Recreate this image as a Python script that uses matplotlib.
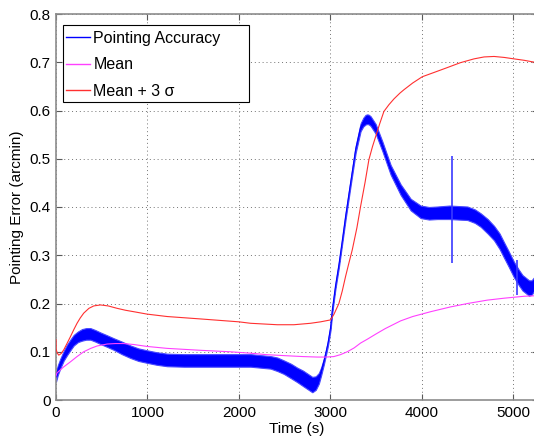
import numpy as np
import matplotlib.pyplot as plt
from matplotlib.patches import Rectangle

plt.rcParams['font.family'] = ['Liberation Sans', 'DejaVu Sans']

# Pointing accuracy: centre of the noisy trace and half-width of the noise band
acc_t = [0, 20, 48, 85, 121, 160, 194, 240, 285, 330, 376, 430, 486, 560, 631, 720, 814, 900,
         996, 1100, 1215, 1400, 1700, 1950, 2127, 2346, 2420, 2492, 2570, 2638, 2700, 2747,
         2802, 2840, 2874, 2900, 2929, 2950, 2973, 3002, 3020, 3055, 3093, 3130, 3166, 3221,
         3276, 3330, 3360, 3385, 3405, 3421, 3440, 3495, 3568, 3659, 3768, 3878, 3987, 4078,
         4169, 4300, 4498, 4580, 4643, 4720, 4789, 4850, 4898, 4950, 5008, 5060, 5100, 5172,
         5200, 5234]
acc_mid = [0.048, 0.062, 0.076, 0.092, 0.104, 0.115, 0.124, 0.131, 0.135, 0.137, 0.137, 0.133,
           0.128, 0.122, 0.116, 0.108, 0.100, 0.094, 0.090, 0.086, 0.083, 0.082, 0.082, 0.082,
           0.082, 0.078, 0.074, 0.068, 0.060, 0.052, 0.045, 0.039, 0.032, 0.035, 0.045, 0.060,
           0.080, 0.097, 0.117, 0.150, 0.185, 0.235, 0.280, 0.330, 0.380, 0.450, 0.519, 0.565,
           0.576, 0.581, 0.582, 0.581, 0.578, 0.562, 0.526, 0.477, 0.436, 0.405, 0.390, 0.387,
           0.388, 0.389, 0.387, 0.381, 0.373, 0.360, 0.346, 0.329, 0.311, 0.292, 0.270, 0.254,
           0.243, 0.232, 0.233, 0.242]
acc_hw = [0.010, 0.010, 0.010, 0.010, 0.011, 0.011, 0.011, 0.011, 0.012, 0.012, 0.012, 0.012,
          0.012, 0.012, 0.012, 0.013, 0.013, 0.013, 0.013, 0.013, 0.013, 0.013, 0.013, 0.013,
          0.013, 0.013, 0.014, 0.014, 0.015, 0.015, 0.016, 0.016, 0.016, 0.014, 0.011, 0.008,
          0.006, 0.005, 0.005, 0.005, 0.005, 0.005, 0.005, 0.005, 0.006, 0.006, 0.007, 0.008,
          0.009, 0.010, 0.010, 0.010, 0.010, 0.010, 0.010, 0.010, 0.011, 0.012, 0.013, 0.013,
          0.013, 0.014, 0.014, 0.014, 0.014, 0.015, 0.015, 0.016, 0.016, 0.016, 0.016, 0.016,
          0.016, 0.016, 0.015, 0.014]

# short transients in the pointing accuracy trace
spike_t = [4326, 5045]
spike_lo = [0.284, 0.218]
spike_hi = [0.505, 0.290]

# Mean
mean_t = [0, 10, 80, 157, 230, 303, 380, 450, 559, 650, 741, 850, 996, 1215, 1580, 1900, 2127,
          2300, 2492, 2700, 2857, 2950, 3038, 3110, 3185, 3260, 3330, 3404, 3500, 3600, 3768,
          3900, 4096, 4315, 4500, 4716, 4900, 5008, 5120, 5234]
mean_v = [0.050, 0.056, 0.068, 0.079, 0.090, 0.100, 0.107, 0.112, 0.116, 0.117, 0.117, 0.115,
          0.111, 0.107, 0.103, 0.100, 0.097, 0.094, 0.092, 0.090, 0.089, 0.089, 0.090, 0.094,
          0.100, 0.108, 0.118, 0.126, 0.137, 0.148, 0.164, 0.173, 0.183, 0.193, 0.200, 0.207,
          0.211, 0.213, 0.215, 0.216]

# Mean + 3 sigma
sig_t = [0, 1, 15, 30, 55, 85, 120, 157, 195, 230, 265, 303, 360, 413, 486, 570, 668, 760,
         850, 996, 1215, 1580, 2000, 2127, 2419, 2601, 2783, 2893, 3002, 3040, 3093, 3130, 3166,
         3200, 3239, 3290, 3330, 3380, 3421, 3460, 3495, 3540, 3585, 3640, 3695, 3760, 3804,
         3900, 4005, 4150, 4279, 4420, 4570, 4680, 4789, 4900, 5008, 5120, 5234]
sig_v = [0.125, 0.105, 0.097, 0.093, 0.096, 0.104, 0.117, 0.131, 0.146, 0.159, 0.170, 0.180,
         0.190, 0.195, 0.197, 0.195, 0.190, 0.186, 0.183, 0.178, 0.173, 0.168, 0.162, 0.159,
         0.156, 0.156, 0.159, 0.162, 0.166, 0.178, 0.200, 0.226, 0.256, 0.282, 0.311, 0.357,
         0.401, 0.452, 0.498, 0.525, 0.546, 0.573, 0.598, 0.612, 0.624, 0.636, 0.643, 0.657,
         0.670, 0.680, 0.689, 0.699, 0.707, 0.711, 0.712, 0.710, 0.707, 0.704, 0.700]

fig = plt.figure(figsize=(5.34, 4.43), dpi=100)
ax = fig.add_axes([56 / 534, 43 / 443, 482 / 534, 386 / 443])

lo = np.array(acc_mid) - np.array(acc_hw)
hi = np.array(acc_mid) + np.array(acc_hw)
ax.fill_between(acc_t, lo, hi, facecolor='#0000ff', edgecolor='#4848ff', linewidth=0.8, zorder=2)
ax.plot(acc_t, acc_mid, color='#0000ff', lw=0.8, label='Pointing Accuracy', zorder=3)
ax.vlines(spike_t, spike_lo, spike_hi, color='#3a3aff', lw=1.2, zorder=3)
ax.plot(mean_t, mean_v, color='#ff40ff', lw=0.8, label='Mean', zorder=4)
ax.plot(sig_t, sig_v, color='#ff3030', lw=0.8, label='Mean + 3 σ', zorder=4)

ax.set_xlim(0, 5270)
ax.set_ylim(0, 0.8)
ax.set_xticks([0, 1000, 2000, 3000, 4000, 5000])
ax.set_yticks([0, 0.1, 0.2, 0.3, 0.4, 0.5, 0.6, 0.7, 0.8])
ax.set_yticklabels(['0', '0.1', '0.2', '0.3', '0.4', '0.5', '0.6', '0.7', '0.8'])
ax.tick_params(direction='in', length=4, width=0.8, color='0.35', labelsize=11,
               top=True, right=True, pad=4)
ax.grid(True, linestyle=(0, (1, 3)), color='0.45', linewidth=0.7)
for s in ax.spines.values():
    s.set_color('0.55')
    s.set_linewidth(1.2)

ax.set_xlabel('Time (s)', fontsize=11, labelpad=2)
ax.set_ylabel('Pointing Error (arcmin)', fontsize=11, labelpad=4)

# legend entries without their own frame, boxed by a plain rectangle
leg = ax.legend(loc='upper left', fontsize=11.5, handlelength=1.5, handletextpad=0.2,
                borderpad=0, borderaxespad=0, labelspacing=0.72, frameon=False,
                bbox_to_anchor=(0.021, 0.957))
for h in leg.legend_handles:
    h.set_linewidth(1.0)
ax.add_patch(Rectangle((0.0151, 0.7728), 0.386, 0.1987, transform=ax.transAxes,
                       facecolor='white', edgecolor='black', linewidth=0.8, zorder=5))
leg.set_zorder(6)

plt.savefig('out.png', dpi=100)
